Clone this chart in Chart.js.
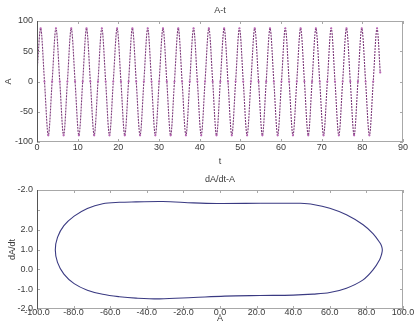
<!DOCTYPE html>
<html><head><meta charset="utf-8">
<script src="https://cdn.jsdelivr.net/npm/chart.js@4.4.0/dist/chart.umd.min.js"></script>
<style>
html,body{margin:0;padding:0;background:#fff;}
#c1{position:absolute;left:0;top:0;}
#c2{position:absolute;left:0;top:170px;}
</style></head><body>
<canvas id="c1" width="414" height="170"></canvas>
<canvas id="c2" width="414" height="164"></canvas>
<script>
// ---- Top chart: A vs t ----
const tValues = [0,
 0.90,1.84,2.78,3.72, 4.66,5.60,6.54,7.48, 8.42,9.36,10.30,11.24, 12.18,13.12,14.06,15.00,
 15.94,16.88,17.82,18.76, 19.70,20.64,21.58,22.52, 23.46,24.40,25.34,26.28, 27.22,28.16,29.10,30.04,
 30.98,31.92,32.86,33.80, 34.74,35.68,36.62,37.56, 38.50,39.44,40.38,41.32, 42.26,43.20,44.14,45.08,
 46.02,46.96,47.90,48.84, 49.78,50.72,51.66,52.60, 53.54,54.48,55.42,56.36, 57.30,58.24,59.18,60.12,
 61.06,62.00,62.94,63.88, 64.82,65.76,66.70,67.64, 68.58,69.52,70.46,71.40, 72.34,73.28,74.22,75.16,
 76.10,77.04,77.98,78.92, 79.86,80.80,81.74,82.68,
 83.62,84.40];
const aValues = [15,
 88,0,-89,0, 88,0,-89,0, 88,0,-89,0, 88,0,-89,0,
 88,0,-89,0, 88,0,-89,0, 88,0,-89,0, 88,0,-89,0,
 88,0,-89,0, 88,0,-89,0, 88,0,-89,0, 88,0,-89,0,
 88,0,-89,0, 88,0,-89,0, 88,0,-89,0, 88,0,-89,0,
 88,0,-89,0, 88,0,-89,0, 88,0,-89,0, 88,0,-89,0,
 88,0,-89,0, 88,0,-89,0,
 88,15];
const topXTicks = [0,10,20,30,40,50,60,70,80,90];
const topYTicks = [-100,-50,0,50,100];

// ---- Bottom chart: dA/dt vs A (closed loop) ----
const phaseA = [21.9,-1.8,-14.6,-31.3,-45.9,-55.0,-64.1,-72.5,-79.7,-85.3,-88.8,-90.0,
 -88.8,-85.3,-79.7,-72.5,-64.1,-55.0,-45.9,-33.0,-14.6,2.6,21.9,40.0,50.9,60.0,69.1,78.2,83.6,87.3,88.3,
 88.7,88.3,87.3,83.6,78.2,69.1,60.0,50.9,43.6,38.3,21.9];
const phaseDadt = [3.33,3.32,3.35,3.42,3.40,3.38,3.31,3.07,2.68,2.20,1.61,0.98,
 0.35,-0.24,-0.72,-1.05,-1.26,-1.38,-1.45,-1.49,-1.42,-1.35,-1.32,-1.30,-1.25,-1.17,-0.95,-0.53,-0.03,0.50,0.76,
 0.97,1.17,1.35,1.80,2.25,2.75,3.08,3.27,3.33,3.33,3.33];
const bottomXTicks = [-100,-80,-60,-40,-20,0,20,40,60,80,100];
const bottomYTicks = [-2,-1,0,1,2,3,4];
const bottomYTickLabels = ['-2.0','-1.0','0.0','1.0','2.0','','-2.0'];

const FONT = {family:'"Liberation Sans", Arial, sans-serif', size:9};
const TXT = '#3a3a3a';

function framePlugin(title){
  return {
    id:'frame',
    afterDraw(chart){
      const {ctx, chartArea:{left,right,top,bottom}, scales:{x,y}} = chart;
      ctx.save();
      ctx.lineWidth = 1;
      ctx.strokeStyle = '#a8a8a8';
      ctx.strokeRect(Math.round(left)+0.5, Math.round(top)+0.5, Math.round(right-left)-1, Math.round(bottom-top)-1);
      ctx.beginPath();
      x.ticks.forEach(t=>{
        const px = Math.round(x.getPixelForValue(t.value))+0.5;
        ctx.moveTo(px,bottom); ctx.lineTo(px,bottom-3);
        ctx.moveTo(px,top); ctx.lineTo(px,top+3);
      });
      y.ticks.forEach(t=>{
        const py = Math.round(y.getPixelForValue(t.value))+0.5;
        ctx.moveTo(left,py); ctx.lineTo(left+3,py);
        ctx.moveTo(right,py); ctx.lineTo(right-3,py);
      });
      ctx.stroke();
      ctx.strokeStyle = '#555';
      ctx.beginPath();
      ctx.moveTo(Math.round(left)+0.5, top); ctx.lineTo(Math.round(left)+0.5, bottom);
      ctx.stroke();
      ctx.fillStyle = TXT;
      ctx.font = '9px "Liberation Sans", Arial, sans-serif';
      ctx.textAlign = 'center';
      ctx.textBaseline = 'middle';
      ctx.fillText(title, (left+right)/2, top - 10.5);
      ctx.restore();
    }
  };
}

function makeScales(o){
  return {
    x:{type:'linear', min:o.xmin, max:o.xmax,
      afterBuildTicks(s){ s.ticks = o.xticks.map(v=>({value:v})); },
      ticks:{autoSkip:false, maxRotation:0, padding:o.xpad, color:TXT, font:FONT, callback:o.xcb},
      grid:{display:false, drawTicks:false}, border:{display:false},
      title:{display:true, text:o.xtitle, color:TXT, font:FONT, padding:{top:0,bottom:o.xtpad}},
      afterFit(s){ s.height = o.xh; }
    },
    y:{type:'linear', min:o.ymin, max:o.ymax,
      afterBuildTicks(s){ s.ticks = o.yticks.map(v=>({value:v})); },
      ticks:{autoSkip:false, padding:4, color:TXT, font:FONT, callback:o.ycb},
      grid:{display:false, drawTicks:false}, border:{display:false},
      title:{display:true, text:o.ytitle, color:TXT, font:FONT, padding:{top:o.ytpad,bottom:0}},
      afterFit(s){ s.width = 37; }
    }
  };
}

new Chart(document.getElementById('c1'), {
  type:'line',
  data:{datasets:[{
    data: tValues.map((t,i)=>({x:t, y:aValues[i]})),
    borderColor:'#7d3a7b', borderWidth:1.1, borderDash:[2,1],
    pointRadius:1.1, pointBorderWidth:0, pointBackgroundColor:'#b866b4',
    cubicInterpolationMode:'monotone', fill:false
  }]},
  options:{
    responsive:false, animation:false, devicePixelRatio:1,
    layout:{padding:{top:21,right:11,left:0,bottom:0}},
    plugins:{legend:{display:false}, tooltip:{enabled:false}},
    scales: makeScales({xmin:0,xmax:90,xticks:topXTicks,ymin:-100,ymax:100,yticks:topYTicks,
      xpad:0, xh:28, xtitle:'t', xtpad:3.5, ytitle:'A', ytpad:3.6,
      xcb:v=>String(v), ycb:v=>String(v)})
  },
  plugins:[framePlugin('A-t')]
});

new Chart(document.getElementById('c2'), {
  type:'scatter',
  data:{datasets:[{
    data: phaseA.map((a,i)=>({x:a, y:phaseDadt[i]})),
    showLine:true, borderColor:'#3a3a82', backgroundColor:'#3a3a82', borderWidth:1.1,
    pointRadius:0, tension:0.35, fill:false
  }]},
  options:{
    responsive:false, animation:false, devicePixelRatio:1,
    layout:{padding:{top:20,right:11,left:0,bottom:0}},
    plugins:{legend:{display:false}, tooltip:{enabled:false}},
    scales: makeScales({xmin:-100,xmax:100,xticks:bottomXTicks,ymin:-2,ymax:4,yticks:bottomYTicks,
      xpad:-2, xh:25, xtitle:'A', xtpad:9.9, ytitle:'dA/dt', ytpad:7.6,
      xcb:v=>v.toFixed(1), ycb:(v,i)=>bottomYTickLabels[i]})
  },
  plugins:[framePlugin('dA/dt-A')]
});
</script>
</body></html>
